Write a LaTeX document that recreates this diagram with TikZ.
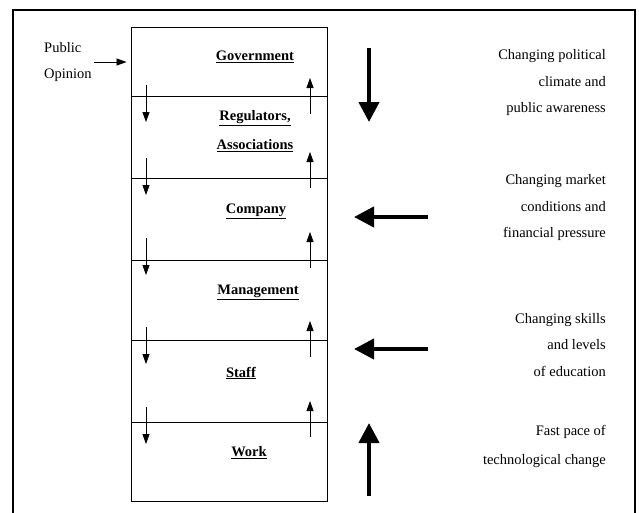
\documentclass[tikz,border=0pt]{standalone}
\usepackage{fontspec}
\setmainfont{Liberation Serif}
\usepackage{tikz}
\usetikzlibrary{arrows.meta,positioning}

\begin{document}
\begin{tikzpicture}[
    x=1pt, y=-1pt,
    every node/.style={font=\fontsize{14.5}{26.5}\selectfont, inner sep=2pt},
    level/.style={font=\fontsize{14.5}{29}\selectfont\bfseries, align=center},
    note/.style={align=right, anchor=east},
    small/.style={-{Triangle[width=7pt,length=10pt]}, line width=0.8pt},
    big/.style={-{Triangle[width=20pt,length=20pt]}, line width=4.2pt}
]
    \useasboundingbox (0,0) rectangle (639,512);
    % outer frame, open at the bottom
    \draw[line width=2.6pt] (13,515) -- (13,10) -- (635,10) -- (635,515);

    \node[draw, line width=0.9pt, inner sep=0pt, minimum width=196pt, minimum height=474pt] (stack) at (229,264) {};

    \node[level] (gov) at (255,57) {\underline{Government}};
    \node[level] (reg) at (255,131) {\underline{Regulators,}\\\underline{Associations}};
    \node[level] (comp) at (256,211) {\underline{Company}};
    \node[level] (mgmt) at (258,292) {\underline{Management}};
    \node[level] (staff) at (241,373) {\underline{Staff}};
    \node[level] (work) at (249,453) {\underline{Work}};

    % dividers with the small arrows across them
    \foreach \y/\ds/\us in {96/85/114, 178/158/188, 260/238/268, 340/327/357, 422/407/437} {
        \draw[line width=0.8pt] (stack.west |- 0,\y) -- (stack.east |- 0,\y);
        \coordinate (d1) at (146,\ds);
        \coordinate (d2) at (146,\ds+37);
        \coordinate (u1) at (310,\us);
        \coordinate (u2) at (310,\us-36);
        \draw[small] (d1) -- (d2);
        \draw[small] (u1) -- (u2);
    }

    \node[align=left, anchor=west] (pub) at (42,62) {Public\\Opinion};
    \draw[small] (pub.east) -- ([xshift=-4pt]pub.east -| stack.west);

    \node[note] (pol) at (608,83) {Changing political\\climate and\\public awareness};
    \node[note] (mkt) at (608,208) {Changing market\\conditions and\\financial pressure};
    \node[note] (edu) at (608,345) {Changing skills\\and levels\\of education};
    \node[note, font=\fontsize{14.5}{29}\selectfont] (tech) at (608,446) {Fast pace of\\technological change};

    % pressures from outside
    \coordinate (polA) at (369,48);
    \coordinate (polB) at (369,122);
    \coordinate (mktA) at (428,217);
    \coordinate (mktB) at (354,217);
    \coordinate (eduA) at (428,349);
    \coordinate (eduB) at (354,349);
    \coordinate (techA) at (369,496);
    \coordinate (techB) at (369,423);
    \draw[big] (polA) -- (polB);
    \draw[big] (mktA) -- (mktB);
    \draw[big] (eduA) -- (eduB);
    \draw[big] (techA) -- (techB);
\end{tikzpicture}
\end{document}
